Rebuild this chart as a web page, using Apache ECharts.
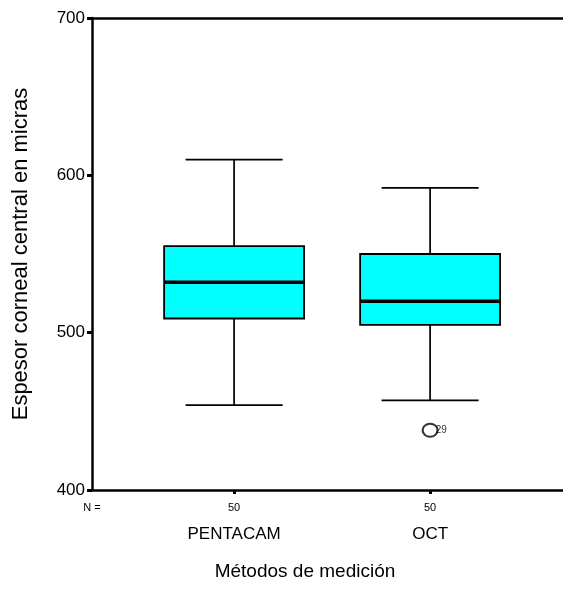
<!DOCTYPE html>
<html>
<head>
<meta charset="utf-8">
<script src="https://cdn.jsdelivr.net/npm/echarts@6/dist/echarts.min.js"></script>
<style>html,body{margin:0;padding:0;background:#fff;}#c{width:563px;height:601px;}</style>
</head>
<body>
<div id="c"></div>
<script>
// ---- data ----
const categories = ['PENTACAM', 'OCT'];
const counts = [50, 50];
const minVals = [454, 457];
const q1Vals = [509, 505];
const medianVals = [532, 520];
const q3Vals = [555, 550];
const maxVals = [610, 592];
const outlierCategory = ['OCT'];
const outlierValues = [438];
const outlierLabels = ['29'];
const yTicks = [400, 500, 600, 700];

// ---- build ----
const FONT = "'Liberation Sans', Arial, Helvetica, sans-serif";
const X_MIN = 0.275, X_MAX = 2.678;
const BOX_FRAC = 0.714, CAP_FRAC = 0.495;

const boxData = categories.map((c, i) => [i + 1, minVals[i], q1Vals[i], medianVals[i], q3Vals[i], maxVals[i]]);
const outData = outlierCategory.map((c, i) => ({ value: [categories.indexOf(c) + 1, outlierValues[i]] }));

function renderItem(params, api) {
  const x = api.value(0);
  const unit = api.size([1, 0])[0];
  const bw = unit * BOX_FRAC, cw = unit * CAP_FRAC;
  const pMin = api.coord([x, api.value(1)]);
  const pQ1 = api.coord([x, api.value(2)]);
  const pMed = api.coord([x, api.value(3)]);
  const pQ3 = api.coord([x, api.value(4)]);
  const pMax = api.coord([x, api.value(5)]);
  const cx = pMin[0];
  const ls = { stroke: '#000', lineWidth: 1.7 };
  return {
    type: 'group',
    children: [
      { type: 'line', shape: { x1: cx, y1: pMax[1], x2: cx, y2: pQ3[1] }, style: ls },
      { type: 'line', shape: { x1: cx, y1: pQ1[1], x2: cx, y2: pMin[1] }, style: ls },
      { type: 'line', shape: { x1: cx - cw / 2, y1: pMax[1], x2: cx + cw / 2, y2: pMax[1] }, style: ls },
      { type: 'line', shape: { x1: cx - cw / 2, y1: pMin[1], x2: cx + cw / 2, y2: pMin[1] }, style: ls },
      { type: 'rect', shape: { x: cx - bw / 2, y: pQ3[1], width: bw, height: pQ1[1] - pQ3[1] }, style: { fill: '#00FFFF', stroke: '#000', lineWidth: 1.8 } },
      { type: 'line', shape: { x1: cx - bw / 2, y1: pMed[1], x2: cx + bw / 2, y2: pMed[1] }, style: { stroke: '#000', lineWidth: 3.4 } }
    ]
  };
}

const labelValues = [X_MIN].concat(categories.map((c, i) => i + 1));

const chart = echarts.init(document.getElementById('c'), null, { renderer: 'canvas' });
chart.setOption({
  backgroundColor: '#fff',
  animation: false,
  grid: { left: 92, right: 0, top: 18, bottom: 111 },
  xAxis: [{
    type: 'value',
    position: 'bottom',
    min: X_MIN, max: X_MAX,
    splitLine: { show: false },
    axisLine: { show: true, onZero: false, lineStyle: { color: '#000', width: 2.5 } },
    axisTick: { show: true, customValues: categories.map((c, i) => i + 1), length: 4, lineStyle: { color: '#000', width: 3 } },
    axisLabel: {
      show: true,
      customValues: labelValues,
      margin: 9,
      showMinLabel: true,
      formatter: function (v) {
        const idx = Math.round(v) - 1;
        if (v < 0.5) return '{n|N =}\n{c| }';
        return '{n|' + counts[idx] + '}\n{c|' + categories[idx] + '}';
      },
      rich: {
        n: { fontSize: 11, fontFamily: FONT, color: '#000', lineHeight: 18 },
        c: { fontSize: 17, fontFamily: FONT, color: '#000', lineHeight: 34 }
      }
    },
    name: 'Métodos de medición',
    nameLocation: 'middle',
    nameGap: 72,
    nameTextStyle: { fontSize: 19, fontFamily: FONT, color: '#000', padding: [0, 45, 0, 0] }
  }, {
    type: 'value',
    position: 'top',
    min: X_MIN, max: X_MAX,
    splitLine: { show: false },
    axisLine: { show: true, onZero: false, lineStyle: { color: '#000', width: 2.5 } },
    axisTick: { show: false },
    axisLabel: { show: false }
  }],
  yAxis: {
    type: 'value',
    min: yTicks[0], max: yTicks[yTicks.length - 1], interval: 100,
    splitLine: { show: false },
    axisLine: { show: true, onZero: false, lineStyle: { color: '#000', width: 2.5 } },
    axisTick: { show: true, length: 5, lineStyle: { color: '#000', width: 3 } },
    axisLabel: { fontSize: 17, fontFamily: FONT, color: '#000', margin: 7 },
    name: 'Espesor corneal central en micras',
    nameLocation: 'middle',
    nameGap: 60,
    nameTextStyle: { fontSize: 22, fontFamily: FONT, color: '#000' }
  },
  series: [{
    type: 'custom',
    renderItem: renderItem,
    data: boxData,
    encode: { x: 0, y: [1, 2, 3, 4, 5] },
    silent: true
  }, {
    type: 'scatter',
    data: outData,
    symbol: 'circle',
    symbolSize: [15, 13],
    itemStyle: { color: 'rgba(0,0,0,0)', borderColor: '#000', borderWidth: 2 },
    label: {
      show: true, position: 'right', distance: -3,
      formatter: function (p) { return outlierLabels[p.dataIndex]; },
      fontSize: 10, fontFamily: FONT, color: '#000'
    },
    silent: true
  }]
});
</script>
</body>
</html>
